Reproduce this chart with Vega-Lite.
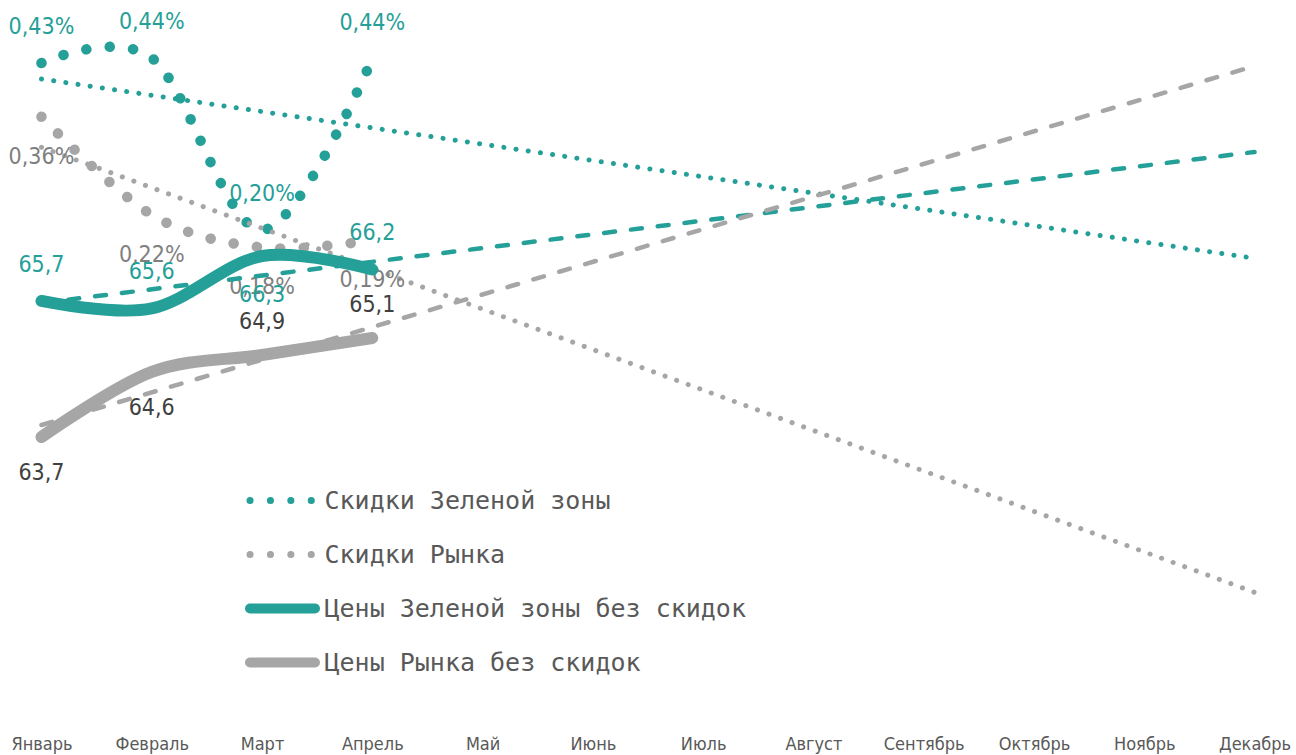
{
  "$schema": "https://vega.github.io/schema/vega-lite/v6.json",
  "width": 1296,
  "height": 730,
  "autosize": {"type": "none"},
  "padding": {"left": 0, "top": 0, "right": 0, "bottom": 25},
  "background": "white",
  "config": {
    "view": {"stroke": null},
    "locale": {"number": {"decimal": ",", "thousands": " ", "grouping": [3], "currency": ["", ""]}}
  },
  "data": {
    "values": [
      {"series": "Скидки Зеленой зоны", "kind": "fact", "month": "Январь", "value": 0.0043},
      {"series": "Скидки Зеленой зоны", "kind": "fact", "month": "Февраль", "value": 0.00437},
      {"series": "Скидки Зеленой зоны", "kind": "fact", "month": "Март", "value": 0.002},
      {"series": "Скидки Зеленой зоны", "kind": "fact", "month": "Апрель", "value": 0.00436},
      {"series": "Скидки Зеленой зоны", "kind": "trend", "month": "Январь", "value": 0.00408},
      {"series": "Скидки Зеленой зоны", "kind": "trend", "month": "Декабрь", "value": 0.00161},
      {"series": "Скидки Рынка", "kind": "fact", "month": "Январь", "value": 0.00356},
      {"series": "Скидки Рынка", "kind": "fact", "month": "Февраль", "value": 0.00221},
      {"series": "Скидки Рынка", "kind": "fact", "month": "Март", "value": 0.00176},
      {"series": "Скидки Рынка", "kind": "fact", "month": "Апрель", "value": 0.00186},
      {"series": "Скидки Рынка", "kind": "trend", "month": "Январь", "value": 0.00314},
      {"series": "Скидки Рынка", "kind": "trend", "month": "Декабрь", "value": -0.00299},
      {"series": "Цены Зеленой зоны без скидок", "kind": "fact", "month": "Январь", "value": 65.74},
      {"series": "Цены Зеленой зоны без скидок", "kind": "fact", "month": "Февраль", "value": 65.64},
      {"series": "Цены Зеленой зоны без скидок", "kind": "fact", "month": "Март", "value": 66.34},
      {"series": "Цены Зеленой зоны без скидок", "kind": "fact", "month": "Апрель", "value": 66.16},
      {"series": "Цены Зеленой зоны без скидок", "kind": "trend", "month": "Январь", "value": 65.713},
      {"series": "Цены Зеленой зоны без скидок", "kind": "trend", "month": "Декабрь", "value": 67.727},
      {"series": "Цены Рынка без скидок", "kind": "fact", "month": "Январь", "value": 63.7},
      {"series": "Цены Рынка без скидок", "kind": "fact", "month": "Февраль", "value": 64.62},
      {"series": "Цены Рынка без скидок", "kind": "fact", "month": "Март", "value": 64.86},
      {"series": "Цены Рынка без скидок", "kind": "fact", "month": "Апрель", "value": 65.1},
      {"series": "Цены Рынка без скидок", "kind": "trend", "month": "Январь", "value": 63.87},
      {"series": "Цены Рынка без скидок", "kind": "trend", "month": "Декабрь", "value": 68.947}
    ]
  },
  "encoding": {
    "x": {
      "field": "month",
      "type": "ordinal",
      "sort": ["Январь", "Февраль", "Март", "Апрель", "Май", "Июнь", "Июль", "Август", "Сентябрь", "Октябрь", "Ноябрь", "Декабрь"],
      "scale": {"type": "point", "padding": 0.376, "domain": ["Январь", "Февраль", "Март", "Апрель", "Май", "Июнь", "Июль", "Август", "Сентябрь", "Октябрь", "Ноябрь", "Декабрь"]},
      "axis": {"title": null, "labelAngle": 0, "domain": false, "ticks": false, "grid": false, "labelFont": "Liberation Sans Narrow, DejaVu Sans Condensed, sans-serif", "labelFontSize": 18, "labelColor": "#595959", "labelPadding": 5}
    }
  },
  "layer": [
    {
      "transform": [{"filter": "datum.series === 'Скидки Зеленой зоны'"}],
      "encoding": {"y": {"field": "value", "type": "quantitative", "scale": {"domain": [-0.004886, 0.005168], "nice": false, "zero": false}, "axis": null}},
      "layer": [
        {"transform": [{"filter": "datum.kind === 'trend'"}], "mark": {"type": "line", "color": "#25A098", "strokeWidth": 5, "strokeDash": [0.1, 12.2], "strokeCap": "round"}, "encoding": {}},
        {
          "transform": [{"filter": "datum.kind === 'fact'"}],
          "mark": {"type": "line", "interpolate": "cardinal", "strokeWidth": 10.5, "strokeDash": [0.1, 23.4], "strokeCap": "round"},
          "encoding": {
            "color": {
              "field": "series", "type": "nominal",
              "scale": {"domain": ["Скидки Зеленой зоны", "Скидки Рынка", "Цены Зеленой зоны без скидок", "Цены Рынка без скидок"], "range": ["#25A098", "#A6A6A6", "#25A098", "#A6A6A6"]},
              "legend": {
                "title": null, "orient": "none", "legendX": 270, "legendY": 488, "direction": "vertical", "gridAlign": "all",
                "symbolType": "M-2,0L2,0", "symbolSize": 1056.25, "symbolStrokeWidth": 10, "rowPadding": 13,
                "labelOffset": 29.5, "labelFont": "DejaVu Sans Mono", "labelFontSize": 25, "labelColor": "#595959", "labelLimit": 0,
                "padding": 0, "offset": 0,
                "encode": {"symbols": {"update": {
                  "fill": {"value": "transparent"},
                  "strokeDash": {"signal": "(datum.value === 'Скидки Зеленой зоны' || datum.value === 'Скидки Рынка') ? [0.1, 20.3] : [1, 0]"},
                  "strokeWidth": {"signal": "(datum.value === 'Скидки Зеленой зоны' || datum.value === 'Скидки Рынка') ? 7 : 10"},
                  "strokeCap": {"value": "round"}
                }}}
              }
            }
          }
        },
        {"transform": [{"filter": "datum.kind === 'fact'"}], "mark": {"type": "text", "dy": -36, "baseline": "middle", "font": "Liberation Sans Narrow, DejaVu Sans Condensed, sans-serif", "fontSize": 23, "color": "#25A098"}, "encoding": {"text": {"field": "value", "type": "quantitative", "format": ".2%"}}}
      ]
    },
    {
      "transform": [{"filter": "datum.series === 'Скидки Рынка'"}],
      "encoding": {"y": {"field": "value", "type": "quantitative", "scale": {"domain": [-0.004886, 0.005168], "nice": false, "zero": false}, "axis": null}},
      "layer": [
        {"transform": [{"filter": "datum.kind === 'trend'"}], "mark": {"type": "line", "color": "#A6A6A6", "strokeWidth": 5, "strokeDash": [0.1, 12.2], "strokeCap": "round"}, "encoding": {}},
        {"transform": [{"filter": "datum.kind === 'fact'"}], "mark": {"type": "line", "interpolate": "cardinal", "strokeWidth": 10.5, "strokeDash": [0.1, 23.4], "strokeCap": "round"}, "encoding": {"color": {"field": "series", "type": "nominal"}}},
        {"transform": [{"filter": "datum.kind === 'fact'"}], "mark": {"type": "text", "dy": 40, "baseline": "middle", "font": "Liberation Sans Narrow, DejaVu Sans Condensed, sans-serif", "fontSize": 23, "color": "#7F7F7F"}, "encoding": {"text": {"field": "value", "type": "quantitative", "format": ".2%"}}}
      ]
    },
    {
      "transform": [{"filter": "datum.series === 'Цены Зеленой зоны без скидок'"}],
      "encoding": {"y": {"field": "value", "type": "quantitative", "scale": {"domain": [60.02, 69.753], "nice": false, "zero": false}, "axis": null}},
      "layer": [
        {"transform": [{"filter": "datum.kind === 'trend'"}], "mark": {"type": "line", "color": "#25A098", "strokeWidth": 4.5, "strokeDash": [11, 16], "strokeCap": "round"}, "encoding": {}},
        {"transform": [{"filter": "datum.kind === 'fact'"}], "mark": {"type": "line", "interpolate": "cardinal", "strokeWidth": 12, "strokeCap": "round", "strokeJoin": "round"}, "encoding": {"color": {"field": "series", "type": "nominal"}}},
        {"transform": [{"filter": "datum.kind === 'fact' && datum.month !== 'Март'"}], "mark": {"type": "text", "dy": -36, "baseline": "middle", "font": "Liberation Sans Narrow, DejaVu Sans Condensed, sans-serif", "fontSize": 23, "color": "#25A098"}, "encoding": {"text": {"field": "value", "type": "quantitative", "format": ".1f"}}},
        {"transform": [{"filter": "datum.kind === 'fact' && datum.month === 'Март'"}], "mark": {"type": "text", "dy": 39, "baseline": "middle", "font": "Liberation Sans Narrow, DejaVu Sans Condensed, sans-serif", "fontSize": 23, "color": "#25A098"}, "encoding": {"text": {"field": "value", "type": "quantitative", "format": ".1f"}}}
      ]
    },
    {
      "transform": [{"filter": "datum.series === 'Цены Рынка без скидок'"}],
      "encoding": {"y": {"field": "value", "type": "quantitative", "scale": {"domain": [59.556, 69.881], "nice": false, "zero": false}, "axis": null}},
      "layer": [
        {"transform": [{"filter": "datum.kind === 'trend'"}], "mark": {"type": "line", "color": "#A6A6A6", "strokeWidth": 4.5, "strokeDash": [11, 16], "strokeCap": "round"}, "encoding": {}},
        {"transform": [{"filter": "datum.kind === 'fact'"}], "mark": {"type": "line", "interpolate": "cardinal", "strokeWidth": 12, "strokeCap": "round", "strokeJoin": "round"}, "encoding": {"color": {"field": "series", "type": "nominal"}}},
        {"transform": [{"filter": "datum.kind === 'fact' && (datum.month === 'Январь' || datum.month === 'Февраль')"}], "mark": {"type": "text", "dy": 36, "baseline": "middle", "font": "Liberation Sans Narrow, DejaVu Sans Condensed, sans-serif", "fontSize": 23, "color": "#404040"}, "encoding": {"text": {"field": "value", "type": "quantitative", "format": ".1f"}}},
        {"transform": [{"filter": "datum.kind === 'fact' && (datum.month === 'Март' || datum.month === 'Апрель')"}], "mark": {"type": "text", "dy": -33, "baseline": "middle", "font": "Liberation Sans Narrow, DejaVu Sans Condensed, sans-serif", "fontSize": 23, "color": "#404040"}, "encoding": {"text": {"field": "value", "type": "quantitative", "format": ".1f"}}}
      ]
    }
  ],
  "resolve": {"scale": {"y": "independent"}}
}
